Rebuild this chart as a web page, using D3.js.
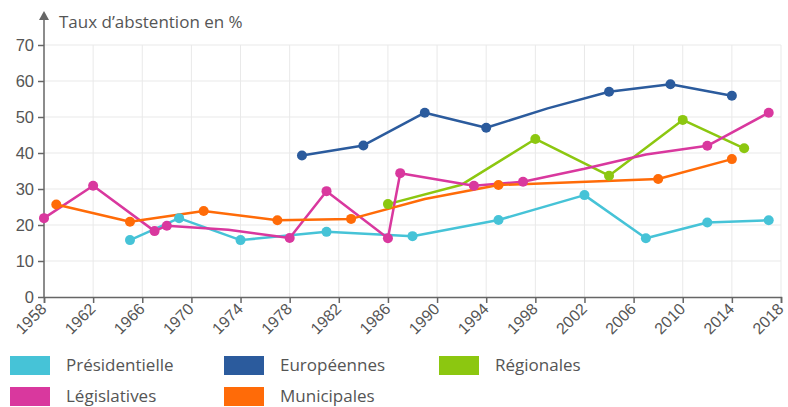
<!DOCTYPE html>
<html>
<head>
<meta charset="utf-8">
<script src="https://cdn.jsdelivr.net/npm/d3@7"></script>
<style>
  body { margin: 0; background: #fff; }
  svg { display: block; font-family: "Open Sans", sans-serif; }
  text { fill: #555; }
</style>
</head>
<body>
<svg id="chart"></svg>
<script>
// years shown as ticks on x axis
const x_ticks = d3.range(1958, 2019, 4);
const y_ticks = [0, 10, 20, 30, 40, 50, 60, 70];

// [year, abstention %]
const presidentielle = [[1965, 15.8], [1969, 21.9], [1974, 15.8], [1981, 18.1], [1988, 16.9],
  [1995, 21.4], [2002, 28.3], [2007, 16.3], [2012, 20.7], [2017, 21.3]];
const europeennes = [[1979, 39.3], [1984, 42.1], [1989, 51.2], [1994, 47.0], [1999, 52.4],
  [2004, 57.0], [2009, 59.1], [2014, 55.9]];
const regionales = [[1986, 25.8], [1992, 31.2], [1998, 43.9], [2004, 33.7], [2010, 49.2], [2015, 41.3]];
const legislatives = [[1958, 21.9], [1962, 30.9], [1967, 18.3], [1968, 19.8], [1973, 18.7],
  [1978, 16.4], [1981, 29.4], [1986, 16.3], [1987, 34.4], [1993, 30.9], [1997, 32.0],
  [2002, 35.6], [2007, 39.6], [2012, 42.0], [2017, 51.2]];
const municipales = [[1959, 25.7], [1965, 20.9], [1971, 23.9], [1977, 21.3], [1983, 21.7],
  [1989, 27.2], [1995, 31.1], [2008, 32.8], [2014, 38.3]];

// points the line passes through but that carry no marker
const unmarked = {
  "Européennes": [1999],
  "Régionales": [1992],
  "Législatives": [1973, 2002, 2007],
  "Municipales": [1989]
};

const series = [
  {name: "Présidentielle", color: "#46c3d7", values: presidentielle},
  {name: "Européennes", color: "#2b5b9d", values: europeennes},
  {name: "Régionales", color: "#8cc710", values: regionales},
  {name: "Législatives", color: "#d9389e", values: legislatives},
  {name: "Municipales", color: "#ff6b08", values: municipales}
];

const width = 788, height = 407;
const margin = {left: 44, right: 7, top: 45, bottom: 110};

const svg = d3.select("#chart")
  .attr("width", width)
  .attr("height", height);

const x = d3.scaleLinear()
  .domain([1958, 2018])
  .range([margin.left, width - margin.right]);

const y = d3.scaleLinear()
  .domain([0, 70])
  .range([height - margin.bottom, margin.top]);

// grid
const grid = svg.append("g")
  .attr("stroke", "#e9e9e9")
  .attr("stroke-width", 1);

grid.selectAll("line.v")
  .data(x_ticks.slice(1))
  .enter().append("line")
    .attr("x1", d => x(d)).attr("x2", d => x(d))
    .attr("y1", y(70)).attr("y2", y(0));

grid.selectAll("line.h")
  .data(y_ticks.slice(1))
  .enter().append("line")
    .attr("x1", x(1958)).attr("x2", x(2018))
    .attr("y1", d => y(d)).attr("y2", d => y(d));

// axes
const x_axis = svg.append("g")
  .attr("transform", `translate(0,${y(0)})`)
  .call(d3.axisBottom(x).tickValues(x_ticks).tickFormat(d3.format("d")).tickSize(6));

x_axis.selectAll("text")
  .attr("font-size", 16)
  .attr("text-anchor", "end")
  .attr("x", 0).attr("y", 0).attr("dy", 0)
  .attr("transform", "translate(3,13) rotate(-45)");

const y_axis = svg.append("g")
  .attr("transform", `translate(${margin.left},0)`)
  .call(d3.axisLeft(y).tickValues(y_ticks).tickSize(6).tickPadding(4));

y_axis.selectAll("text").attr("font-size", 16.5);

svg.selectAll(".domain, .tick line")
  .attr("stroke", "#666")
  .attr("stroke-width", 1.5);

y_axis.select(".domain").remove();

// y axis line with arrow
svg.append("line")
  .attr("x1", margin.left).attr("x2", margin.left)
  .attr("y1", 16).attr("y2", y(0))
  .attr("stroke", "#666")
  .attr("stroke-width", 1.5);

svg.append("path")
  .attr("d", `M${margin.left - 5},${20} L${margin.left},${11} L${margin.left + 5},${20} Z`)
  .attr("fill", "#666");

svg.append("text")
  .attr("x", 59)
  .attr("y", 28)
  .attr("font-size", 17)
  .text("Taux d’abstention en %");

// lines
const line = d3.line()
  .x(d => x(d[0]))
  .y(d => y(d[1]));

const plot = svg.append("g");

series.forEach(s => {
  plot.append("path")
    .datum(s.values)
    .attr("fill", "none")
    .attr("stroke", s.color)
    .attr("stroke-width", 2.5)
    .attr("stroke-linejoin", "round")
    .attr("d", line);
});

series.forEach(s => {
  const skip = unmarked[s.name] || [];
  plot.selectAll(null)
    .data(s.values.filter(d => !skip.includes(d[0])))
    .enter().append("circle")
      .attr("cx", d => x(d[0]))
      .attr("cy", d => y(d[1]))
      .attr("r", 5)
      .attr("fill", s.color);
});

// legend
const legend_cols = [10, 224, 439];
const legend_rows = [356, 387];

const legend = svg.append("g")
  .selectAll("g")
  .data(series)
  .enter().append("g")
    .attr("transform", (d, i) => `translate(${legend_cols[i % 3]},${legend_rows[Math.floor(i / 3)]})`);

legend.append("rect")
  .attr("width", 40)
  .attr("height", 19)
  .attr("fill", d => d.color);

legend.append("text")
  .attr("x", 56)
  .attr("y", 15)
  .attr("font-size", 17)
  .text(d => d.name);
</script>
</body>
</html>
